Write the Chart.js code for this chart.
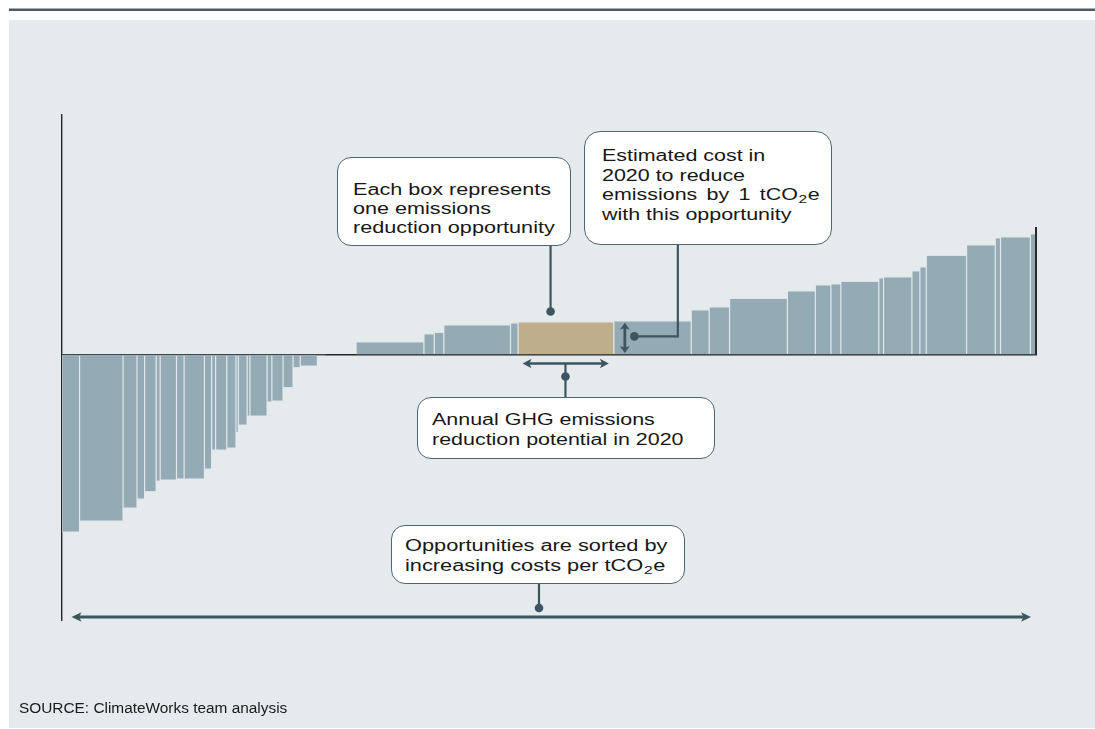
<!DOCTYPE html>
<html>
<head>
<meta charset="utf-8">
<script src="https://cdn.jsdelivr.net/npm/chart.js@4/dist/chart.umd.min.js"></script>
<style>
html,body{margin:0;padding:0;background:#ffffff;width:1095px;height:729px;overflow:hidden;font-family:"Liberation Sans",Arial,sans-serif;}
#rule{position:absolute;left:9px;top:8px;width:1086px;height:3px;background:#4a5b66;border-top:1px solid #a3adb4;box-sizing:border-box;}
#panel{position:absolute;left:9px;top:20px;width:1086px;height:708px;background:#e5eaed;}
#wrap{position:absolute;left:0;top:0;width:1095px;height:729px;}
.box{position:absolute;background:#ffffff;border:1.2px solid #4e6673;border-radius:14px;box-sizing:border-box;}
.txt{position:absolute;white-space:nowrap;font-size:16px;color:#171717;transform:scaleX(1.34);transform-origin:0 0;}
.txt sub{font-size:11.5px;vertical-align:-3px;line-height:0;padding:0 0.5px;}
#src{position:absolute;left:19px;top:699.3px;font-size:15.4px;line-height:17px;color:#1a1a1a;white-space:nowrap;}
</style>
</head>
<body>
<div id="rule"></div>
<div id="panel"></div>
<div id="wrap"><canvas id="c" width="1095" height="729"></canvas></div>

<div class="box" style="left:337px;top:157px;width:234px;height:89px;">
  <div class="txt" style="left:15px;top:21.5px;line-height:19.2px;transform:scaleX(1.35);">Each box represents<br>one emissions<br>reduction opportunity</div>
</div>
<div class="box" style="left:584px;top:131px;width:248px;height:114px;border-radius:16px;">
  <div class="txt" style="left:16.5px;top:14px;line-height:19.6px;">Estimated cost in<br>2020 to reduce<br><span style="word-spacing:2.5px">emissions by 1 tCO</span><sub>2</sub>e<br>with this opportunity</div>
</div>
<div class="box" style="left:417px;top:397px;width:298px;height:62px;">
  <div class="txt" style="left:14px;top:11.5px;line-height:20px;">Annual GHG emissions<br>reduction potential in 2020</div>
</div>
<div class="box" style="left:391px;top:525px;width:294px;height:59px;">
  <div class="txt" style="left:13px;top:9.8px;line-height:20px;transform:scaleX(1.36);">Opportunities are sorted by<br>increasing costs per tCO<sub>2</sub>e</div>
</div>
<div id="src">SOURCE: ClimateWorks team analysis</div>

<script>
// ---- data: one entry per emissions reduction opportunity, sorted by cost ----
// annual abatement potential in 2020 (MtCO2e) = box width
const potential = [4.4, 10.9, 3.5, 1.9, 2.9, 1.0, 4.1, 1.9, 5.1, 1.8,
                   1.0, 2.8, 2.3, 0.6, 2.2, 0.7, 4.3, 1.2, 2.8, 2.5,
                   1.8, 4.3, 2.1, 7.6, 17.0, 2.6, 2.4, 16.7, 1.9, 24.0,
                   19.4, 4.5, 5.1, 14.5, 7.0, 3.9, 2.5, 9.5, 1.2, 7.1,
                   2.0, 1.6, 10.1, 7.2, 1.3, 7.5, 1.4];
// cost in 2020 ($ per tCO2e) = box height
const cost = [-178, -167, -154, -145, -137.5, -127, -126, -125, -125, -115,
              -96, -96, -94, -78.5, -71, -62, -62, -48, -47, -33.5,
              -13.5, -12, -1, 0, 13, 21, 22.5, 30, 32, 33,
              34, 45, 48, 56.5, 64, 70, 71, 73.5, 77, 78,
              84, 88, 99.5, 110, 117, 118, 121];
const highlightIndex = 29;          // the example opportunity
const costAxisMin = -265.5;
const costAxisMax = 239.5;

// ---- derived data for the library ----
let acc = 0;
const boxes = potential.map((w, i) => {
  const x0 = acc; acc += w;
  return {x: x0 + w / 2, y: cost[i], x0: x0, x1: acc};
});
const totalPotential = acc;

// Bar controller whose bar width follows each opportunity's potential
class CostCurveController extends Chart.BarController {
  _calculateBarIndexPixels(index) {
    const raw = this.getDataset().data[index];
    const s = this._cachedMeta.iScale;
    const a = s.getPixelForValue(raw.x0);
    const b = s.getPixelForValue(raw.x1);
    return {base: a, head: b, center: (a + b) / 2, size: b - a};
  }
}
CostCurveController.id = 'costCurve';
CostCurveController.defaults = Chart.BarController.defaults;
Chart.register(CostCurveController);

const CONN = '#3d5560';
function seg(ctx, x1, y1, x2, y2, w) {
  ctx.beginPath(); ctx.moveTo(x1, y1); ctx.lineTo(x2, y2);
  ctx.lineWidth = w; ctx.strokeStyle = CONN; ctx.lineCap = 'butt'; ctx.stroke();
}
function dot(ctx, x, y, r) {
  ctx.beginPath(); ctx.arc(x, y, r, 0, Math.PI * 2); ctx.fillStyle = CONN; ctx.fill();
}
function head(ctx, x, y, dx, dy, len, half) {
  const px = -dy, py = dx;
  ctx.beginPath(); ctx.moveTo(x, y);
  ctx.lineTo(x - dx * len + px * half, y - dy * len + py * half);
  ctx.lineTo(x - dx * len * 0.75, y - dy * len * 0.75);
  ctx.lineTo(x - dx * len - px * half, y - dy * len - py * half);
  ctx.closePath(); ctx.fillStyle = CONN; ctx.fill();
}
function dblArrow(ctx, x1, y1, x2, y2, w, len, half) {
  const L = Math.hypot(x2 - x1, y2 - y1), dx = (x2 - x1) / L, dy = (y2 - y1) / L;
  seg(ctx, x1 + dx * len * 0.6, y1 + dy * len * 0.6, x2 - dx * len * 0.6, y2 - dy * len * 0.6, w);
  head(ctx, x2, y2, dx, dy, len, half);
  head(ctx, x1, y1, -dx, -dy, len, half);
}

const calloutPlugin = {
  id: 'callouts',
  afterDatasetsDraw(chart) {
    const ctx = chart.ctx, xs = chart.scales.x, ys = chart.scales.y, ca = chart.chartArea;
    const hl = boxes[highlightIndex];
    const hx0 = xs.getPixelForValue(hl.x0), hx1 = xs.getPixelForValue(hl.x1);
    const htop = ys.getPixelForValue(hl.y), base = ys.getPixelForValue(0);
    ctx.save();
    // right end marker
    const last = boxes[boxes.length - 1];
    const xe = xs.getPixelForValue(totalPotential);
    ctx.beginPath(); ctx.moveTo(xe, base); ctx.lineTo(xe, ys.getPixelForValue(last.y + 6.5));
    ctx.lineWidth = 2; ctx.strokeStyle = '#2a2a2a'; ctx.stroke();
    // box 1 connector
    seg(ctx, hx0 + 32.5, 246, hx0 + 32.5, htop - 10, 2.2);
    dot(ctx, hx0 + 32.5, htop - 10, 4.3);
    // cost arrow
    const ax = hx1 + 11, ay0 = htop + 1.2, ay1 = base - 1.5;
    dblArrow(ctx, ax, ay0, ax, ay1, 2.8, 7, 5);
    const my = (ay0 + ay1) / 2 - 1.5;
    dot(ctx, ax + 9.5, my, 4.3);
    seg(ctx, ax + 9.5, my, ax + 53, my, 2.2);
    seg(ctx, ax + 53, my + 1.1, ax + 53, 245, 2.2);
    // potential arrow
    const py = base + 9;
    dblArrow(ctx, hx0 + 4.5, py, hx1 - 5, py, 2.7, 9, 4.8);
    const pcx = (hx0 + hx1) / 2 - 0.5;
    seg(ctx, pcx, py, pcx, 397, 2.2);
    dot(ctx, pcx, 376.5, 4.3);
    // sorted axis arrow
    const by = ca.bottom - 3;
    dblArrow(ctx, ca.left + 9.5, by, xe - 5, by, 3, 10, 4.8);
    seg(ctx, 539, 584, 539, 608, 2.2);
    dot(ctx, 539, 608, 4.3);
    ctx.restore();
  }
};

new Chart(document.getElementById('c'), {
  type: 'costCurve',
  data: {
    datasets: [{
      data: boxes,
      backgroundColor: ctx => ctx.dataIndex === highlightIndex ? '#bfae8c' : '#94abb6',
      borderColor: '#dce4e8',
      borderWidth: {top: 1, bottom: 1, left: 0.6, right: 0.6},
      borderSkipped: 'start',
      inflateAmount: 0
    }]
  },
  options: {
    responsive: false,
    animation: false,
    events: [],
    layout: {padding: {left: 62, right: 59, top: 115, bottom: 109}},
    plugins: {legend: {display: false}, tooltip: {enabled: false}, title: {display: false}},
    scales: {
      x: {
        type: 'linear', min: 0, max: totalPotential, offset: false,
        position: {y: 0},
        grid: {display: false, drawTicks: false, offset: false},
        ticks: {display: false},
        border: {display: true, color: '#262626', width: 1.6}
      },
      y: {
        type: 'linear', min: costAxisMin, max: costAxisMax,
        grid: {display: false, drawTicks: false},
        ticks: {display: false},
        border: {display: true, color: '#262626', width: 1.4}
      }
    }
  },
  plugins: [calloutPlugin]
});
</script>
</body>
</html>
